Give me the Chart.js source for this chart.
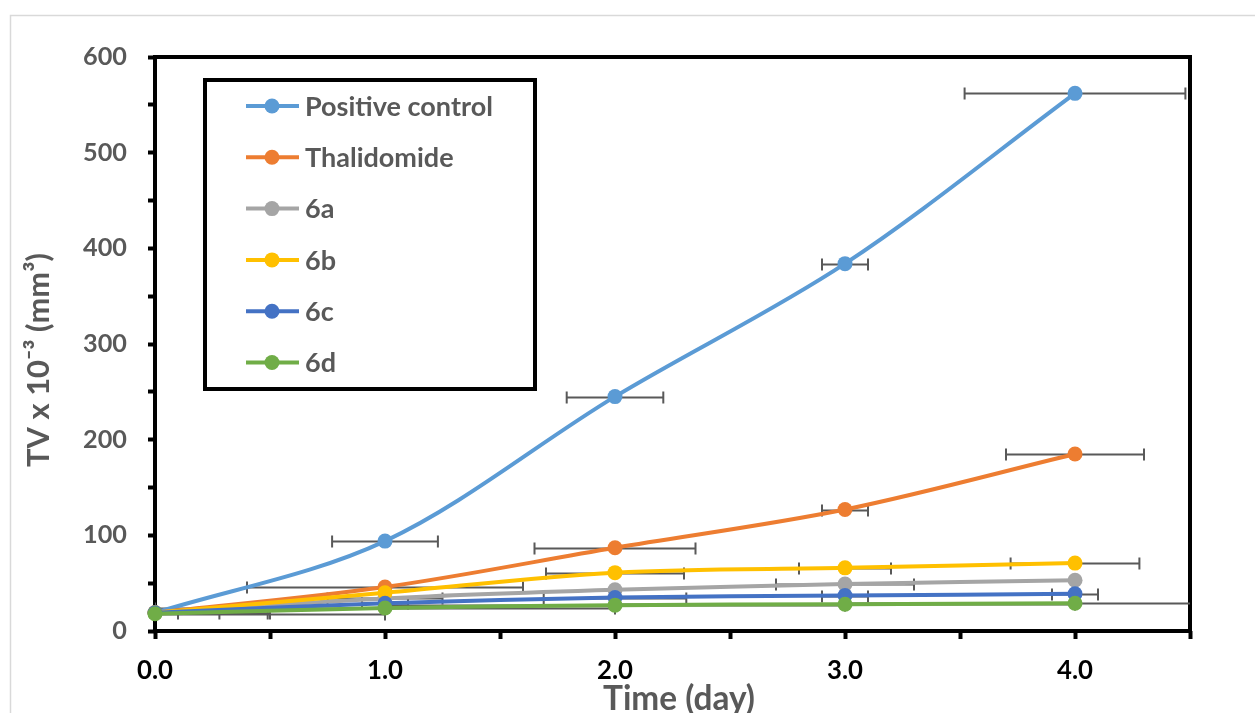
<!DOCTYPE html>
<html>
<head>
<meta charset="utf-8">
<script src="https://cdn.jsdelivr.net/npm/chart.js@4.4.1/dist/chart.umd.min.js"></script>
<style>
  html, body { margin: 0; padding: 0; background: #ffffff; }
  #wrap { position: absolute; left: 0; top: 0; width: 1255px; height: 713px; }
</style>
</head>
<body>
<div id="wrap"><canvas id="c" width="1255" height="713"></canvas></div>
<script>
// ---------- data ----------
const days = [0, 1, 2, 3, 4];
const seriesNames = ['Positive control', 'Thalidomide', '6a', '6b', '6c', '6d'];
const positiveControl = [19, 94, 245, 384, 562];
const thalidomide     = [19, 46, 87, 127, 185];
const cmp6a           = [19, 34, 43, 49, 53];
const cmp6b           = [19, 40, 61, 66, 71];
const cmp6c           = [19, 29, 35, 37, 39];
const cmp6d           = [18, 24, 27, 28, 29];
// horizontal (time) error bars, in days
const errPositiveControl = [0.1, 0.23, 0.21, 0.1, 0.48];
const errThalidomide     = [0.28, 0.6, 0.35, 0.1, 0.3];
const err6a              = [0.49, 0.25, 0, 0.3, 0];
const err6b              = [0.5, 0, 0.3, 0.2, 0.28];
const err6c              = [0, 0.1, 0.31, 0.1, 0.1];
const err6d              = [1.0, 1.0, 1.0, 1.0, 1.0];
const yTickValues = [0, 100, 200, 300, 400, 500, 600];
const xTickValues = [0, 1, 2, 3, 4];
const xTitle = 'Time (day)';
const yTitle = 'TV x 10\u207B\u00B3 (mm\u00B3)';

const seriesValues = [positiveControl, thalidomide, cmp6a, cmp6b, cmp6c, cmp6d];
const seriesErrors = [errPositiveControl, errThalidomide, err6a, err6b, err6c, err6d];
const seriesColors = ['#5B9BD5', '#ED7D31', '#A5A5A5', '#FFC000', '#4472C4', '#70AD47'];

// ---------- fonts ----------
const FAMILY = 'Lato, "Open Sans", "DejaVu Sans", sans-serif';
const mctx = document.createElement('canvas').getContext('2d');
function fitSize(text, width) {
  mctx.font = 'bold 100px ' + FAMILY;
  return 100 * width / mctx.measureText(text).width;
}
const yTickSize = fitSize('600', 44);
const xTickSize = fitSize('0.0', 36);
const legendSize = fitSize('Positive control', 188);
const xTitleSize = fitSize(xTitle, 152);
const yTitleSize = fitSize(yTitle, 214);
const GRAY = '#595959';

// ---------- plugin: frame, error bars, legend, titles ----------
const decor = {
  id: 'decor',
  beforeDraw(chart) {
    const ctx = chart.ctx;
    ctx.save();
    ctx.fillStyle = '#ffffff';
    ctx.fillRect(0, 0, chart.width, chart.height);
    ctx.strokeStyle = '#d9d9d9';
    ctx.lineWidth = 1.5;
    ctx.strokeRect(10.5, 15.5, 1400, 900);
    ctx.restore();
  },
  beforeDatasetsDraw(chart) {
    const ctx = chart.ctx, a = chart.chartArea;
    const xs = chart.scales.x, ys = chart.scales.y;
    ctx.save();
    ctx.strokeStyle = '#000000';
    ctx.lineWidth = 4;
    ctx.strokeRect(a.left, a.top, a.right - a.left, a.bottom - a.top);
    // error bars
    ctx.beginPath();
    ctx.rect(a.left, a.top - 10, a.right - a.left, a.bottom - a.top + 10);
    ctx.clip();
    ctx.strokeStyle = GRAY;
    ctx.lineWidth = 2;
    seriesValues.forEach((vals, i) => {
      vals.forEach((v, j) => {
        const e = seriesErrors[i][j];
        if (!e) return;
        const y = Math.round(ys.getPixelForValue(v)) + 0.5;
        const x1 = xs.getPixelForValue(days[j] - e);
        const x2 = xs.getPixelForValue(days[j] + e);
        ctx.beginPath();
        ctx.moveTo(x1, y); ctx.lineTo(x2, y);
        ctx.moveTo(x1, y - 6); ctx.lineTo(x1, y + 6);
        ctx.moveTo(x2, y - 6); ctx.lineTo(x2, y + 6);
        ctx.stroke();
      });
    });
    ctx.restore();
  },
  afterDraw(chart) {
    const ctx = chart.ctx;
    ctx.save();
    // legend box
    ctx.fillStyle = '#ffffff';
    ctx.fillRect(205, 80, 330, 309);
    ctx.strokeStyle = '#000000';
    ctx.lineWidth = 4;
    ctx.strokeRect(205, 80, 330, 309);
    ctx.font = 'bold ' + legendSize.toFixed(2) + 'px ' + FAMILY;
    ctx.textBaseline = 'middle';
    ctx.textAlign = 'left';
    seriesNames.forEach((name, i) => {
      const y = 106 + i * 51.3;
      ctx.strokeStyle = seriesColors[i];
      ctx.lineWidth = 4;
      ctx.beginPath(); ctx.moveTo(246, y); ctx.lineTo(299, y); ctx.stroke();
      ctx.fillStyle = seriesColors[i];
      ctx.beginPath(); ctx.arc(272, y, 7.5, 0, Math.PI * 2); ctx.fill();
      ctx.fillStyle = GRAY;
      ctx.fillText(name, 305, y + 1);
    });
    // axis titles
    ctx.fillStyle = GRAY;
    ctx.textAlign = 'center';
    ctx.textBaseline = 'middle';
    ctx.font = 'bold ' + xTitleSize.toFixed(2) + 'px ' + FAMILY;
    ctx.fillText(xTitle, 679, 699);
    ctx.translate(39, 360);
    ctx.rotate(-Math.PI / 2);
    ctx.font = 'bold ' + yTitleSize.toFixed(2) + 'px ' + FAMILY;
    ctx.fillText(yTitle, 0, 0);
    ctx.restore();
  }
};

// ---------- chart ----------
const datasets = seriesNames.map((name, i) => ({
  label: name,
  data: days.map((d, j) => ({ x: d, y: seriesValues[i][j] })),
  borderColor: seriesColors[i],
  backgroundColor: seriesColors[i],
  pointBackgroundColor: seriesColors[i],
  pointBorderWidth: 0,
  pointRadius: 7.5,
  borderWidth: 4,
  tension: 0.33,
  clip: false,
  order: seriesNames.length - i
}));

new Chart(document.getElementById('c'), {
  type: 'line',
  data: { datasets },
  options: {
    responsive: false,
    animation: false,
    devicePixelRatio: 1,
    layout: { padding: { left: 0, top: 57, right: 65, bottom: 0 } },
    plugins: { legend: { display: false }, tooltip: { enabled: false }, title: { display: false } },
    scales: {
      x: {
        type: 'linear',
        min: 0, max: 4.5,
        afterFit(s) { s.height = 82; },
        border: { display: false },
        grid: { drawOnChartArea: false, drawTicks: true, tickLength: 8, tickWidth: 4, tickColor: '#000000' },
        ticks: {
          stepSize: 0.5, autoSkip: false, maxRotation: 0,
          color: '#000000',
          padding: 32 - 0.6 * xTickSize,
          font: { family: FAMILY, size: xTickSize, weight: 'bold', lineHeight: 1.2 },
          callback: (v) => xTickValues.includes(v) ? v.toFixed(1) : ''
        }
      },
      y: {
        type: 'linear',
        min: 0, max: 600,
        afterFit(s) { s.width = 155; },
        border: { display: false },
        grid: { drawOnChartArea: false, drawTicks: true, tickLength: 7, tickWidth: 4, tickColor: '#000000' },
        ticks: {
          stepSize: 50, autoSkip: false,
          color: GRAY,
          padding: 21,
          font: { family: FAMILY, size: yTickSize, weight: 'bold' },
          callback: (v) => yTickValues.includes(v) ? String(v) : ''
        }
      }
    }
  },
  plugins: [decor]
});
</script>
</body>
</html>
